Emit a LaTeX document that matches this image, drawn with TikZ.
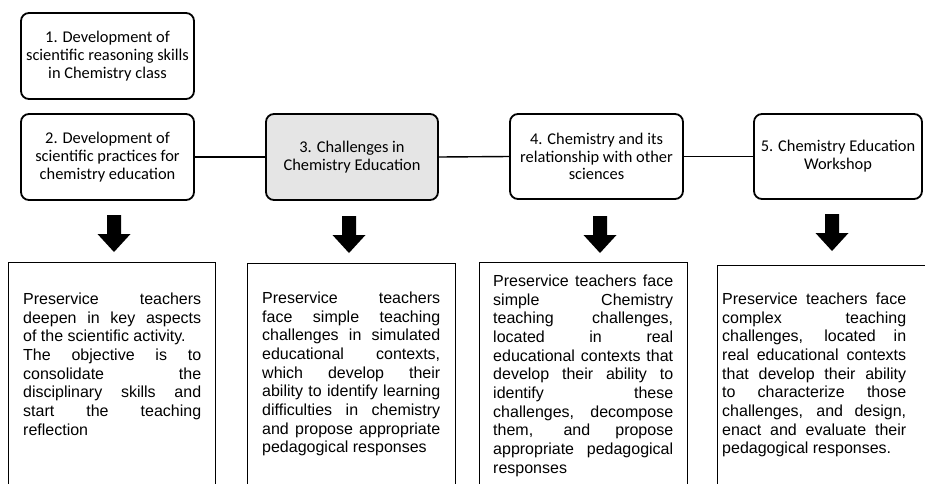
\documentclass[tikz,border=0pt]{standalone}
\usepackage{fontspec}
\newfontfamily\boxfont{Carlito}
\newfontfamily\bodyfont{Liberation Sans}
\usetikzlibrary{positioning}
\parindent=0pt
\tolerance=10000
\hbadness=10000
\hyphenpenalty=10000

\begin{document}
\begin{tikzpicture}[x=1pt, y=-1pt,
  topbox/.style={draw, line width=1.8pt, rounded corners=8pt, align=center,
    inner sep=0pt, font=\boxfont\fontsize{16.4}{17.8}\selectfont},
  outbox/.style={draw, line width=1.3pt, inner sep=0pt, anchor=north west},
  bodytext/.style={align=justify, inner sep=0pt, anchor=north west,
    font=\bodyfont\fontsize{16}{18.7}\selectfont},
  link/.style={line width=1.4pt}]

\newcommand{\shaftW}{7}     % 箭杆半宽
\newcommand{\headW}{16.5}   % 箭头半宽
\newcommand{\shaftL}{19}    % 箭杆长度
\newcommand{\headL}{18}     % 箭头长度

\clip (0,0) rectangle (925,483);

% 顶部圆角框
\node[topbox, minimum width=173, minimum height=86] (b1) at (107.5,56)
  {1. Development of\\scientific reasoning skills\\in Chemistry class};
\node[topbox, minimum width=173, minimum height=86] (b2) at (107.5,157)
  {2. Development of\\scientific practices for\\chemistry education};
\node[topbox, minimum width=172, minimum height=86, fill=gray!20] (b3) at (352,157)
  {3. Challenges in\\Chemistry Education};
\node[topbox, minimum width=173, minimum height=85] (b4) at (596.5,156.5)
  {4. Chemistry and its\\relationship with other\\sciences};
\node[topbox, minimum width=168, minimum height=85] (b5) at (838,156.5)
  {5. Chemistry Education\\Workshop};

\draw[link] (b2.east) -- (b3.west);
\draw[link] (b3.east) -- (b4.west);
\draw[link] (b4.east) -- (b5.west);

% 向下的粗箭头
\coordinate (A2) at (114,215);
\coordinate (A3) at (349,216);
\coordinate (A4) at (600,216);
\coordinate (A5) at (832,214);

\fill (A2) ++(-\shaftW,0) -- ++(2*\shaftW,0) -- ++(0,\shaftL) -- ++(\headW-\shaftW,0)
  -- ++(-\headW,\headL) -- ++(-\headW,-\headL) -- ++(\headW-\shaftW,0) -- cycle;
\fill (A3) ++(-\shaftW,0) -- ++(2*\shaftW,0) -- ++(0,\shaftL) -- ++(\headW-\shaftW,0)
  -- ++(-\headW,\headL) -- ++(-\headW,-\headL) -- ++(\headW-\shaftW,0) -- cycle;
\fill (A4) ++(-\shaftW,0) -- ++(2*\shaftW,0) -- ++(0,\shaftL) -- ++(\headW-\shaftW,0)
  -- ++(-\headW,\headL) -- ++(-\headW,-\headL) -- ++(\headW-\shaftW,0) -- cycle;
\fill (A5) ++(-\shaftW,0) -- ++(2*\shaftW,0) -- ++(0,\shaftL) -- ++(\headW-\shaftW,0)
  -- ++(-\headW,\headL) -- ++(-\headW,-\headL) -- ++(\headW-\shaftW,0) -- cycle;

% 下方说明框
\node[outbox, minimum width=207, minimum height=260] (boxA) at (7.5,261.5) {};
\node[outbox, minimum width=208, minimum height=260] (boxB) at (246.5,262.5) {};
\node[outbox, minimum width=208, minimum height=260] (boxC) at (478.5,261.5) {};
\node[outbox, minimum width=220, minimum height=260] (boxD) at (716.5,265) {};

\node[bodytext, text width=178] (txtA) at (23,292.5)
  {Preservice teachers\linebreak deepen in key aspects\linebreak
   of the scientific activity.\newline The objective is to\linebreak
   consolidate the\linebreak disciplinary skills and\linebreak
   start the teaching\linebreak reflection};
\node[bodytext, text width=178] (txtB) at (262,291.5)
  {Preservice teachers\linebreak face simple teaching\linebreak
   challenges in simulated\linebreak educational contexts,\linebreak
   which develop their\linebreak ability to identify learning\linebreak
   difficulties in chemistry\linebreak and propose appropriate\linebreak
   pedagogical responses};
\node[bodytext, text width=180] (txtC) at (493,274.5)
  {Preservice teachers face\linebreak simple Chemistry\linebreak
   teaching challenges,\linebreak located in real\linebreak
   educational contexts that\linebreak develop their ability to\linebreak
   identify these\linebreak challenges, decompose\linebreak
   them, and propose\linebreak appropriate pedagogical\linebreak responses};
\node[bodytext, text width=184] (txtD) at (722,292.5)
  {Preservice teachers face\linebreak complex teaching\linebreak
   challenges, located in\linebreak real educational contexts\linebreak
   that develop their ability\linebreak to characterize those\linebreak
   challenges, and design,\linebreak enact and evaluate their\linebreak
   pedagogical responses.};

\end{tikzpicture}
\end{document}
